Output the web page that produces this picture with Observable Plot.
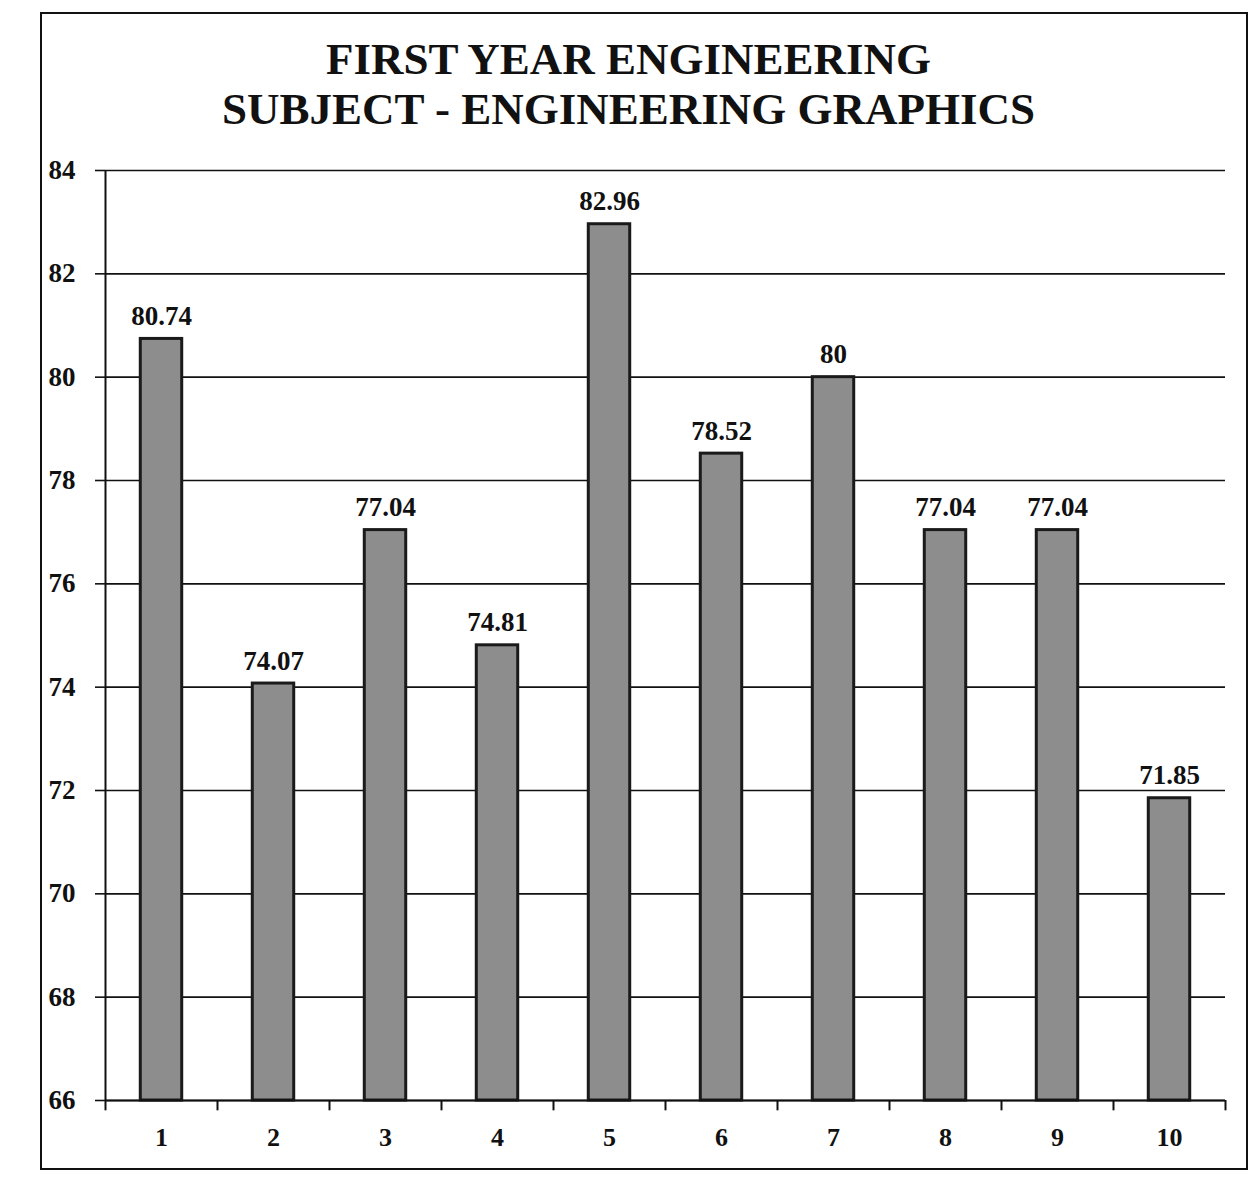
<!DOCTYPE html>
<html>
<head>
<meta charset="utf-8">
<script src="https://cdn.jsdelivr.net/npm/d3@7"></script>
<script src="https://cdn.jsdelivr.net/npm/@observablehq/plot@0.6"></script>
<style>
  html, body { margin: 0; padding: 0; background: #fff; }
  body { width: 1257px; height: 1179px; position: relative; overflow: hidden; font-family: "Liberation Serif", "DejaVu Serif", serif; }
  #frame { position: absolute; left: 40px; top: 12px; width: 1208px; height: 1158px; border: 2px solid #111; box-sizing: border-box; }
  #title { position: absolute; left: 0; top: 34px; width: 1257px; text-align: center; font-weight: bold; font-size: 45px; line-height: 50px; color: #111; }
  #chart { position: absolute; left: 0; top: 150px; }
</style>
</head>
<body>
<div id="frame"></div>
<div id="title">FIRST YEAR ENGINEERING<br>SUBJECT - ENGINEERING GRAPHICS</div>
<div id="chart"></div>
<script>
const categories = [1, 2, 3, 4, 5, 6, 7, 8, 9, 10];
const values = [80.74, 74.07, 77.04, 74.81, 82.96, 78.52, 80, 77.04, 77.04, 71.85];
const valueLabels = ["80.74", "74.07", "77.04", "74.81", "82.96", "78.52", "80", "77.04", "77.04", "71.85"];
const yTicks = [66, 68, 70, 72, 74, 76, 78, 80, 82, 84];

const data = categories.map((c, i) => ({n: c, v: values[i], label: valueLabels[i]}));
const boundaries = [0.5, ...categories.map(c => c + 0.5)];
const halfBar = 0.185;

const chart = Plot.plot({
  width: 1257,
  height: 1010,
  marginLeft: 105,
  marginRight: 32,
  marginTop: 20,
  marginBottom: 60,
  style: {fontFamily: "'Liberation Serif', serif", fontWeight: "bold", color: "#111", background: "transparent"},
  x: {domain: [0.5, 10.5], axis: null},
  y: {domain: [66, 84], axis: null},
  marks: [
    Plot.ruleY(yTicks, {stroke: "#111", strokeWidth: 1.6}),
    Plot.rect(data, {x1: d => d.n - halfBar, x2: d => d.n + halfBar, y1: 66, y2: "v", fill: "#8d8d8d", stroke: "#1a1a1a", strokeWidth: 3}),
    Plot.ruleX([0.5], {stroke: "#111", strokeWidth: 2}),
    Plot.ruleY([66], {stroke: "#111", strokeWidth: 2}),
    Plot.axisY({ticks: yTicks, label: null, tickSize: 10, tickPadding: 20, fontSize: 27, fontWeight: "bold", stroke: "#111", strokeWidth: 1.6, tickFormat: d => String(d)}),
    Plot.ruleX(boundaries, {x: d => d, y1: 66, y2: 65.8, stroke: "#111", strokeWidth: 2}),
    Plot.text(data, {x: "n", y: 66, text: d => String(d.n), dy: 37, fontSize: 26, fontWeight: "bold", fill: "#111"}),
    Plot.text(data, {x: "n", y: "v", text: "label", dy: -14, lineAnchor: "bottom", fontSize: 27, fontWeight: "bold", fill: "#111"})
  ]
});
document.getElementById("chart").appendChild(chart);
</script>
</body>
</html>
